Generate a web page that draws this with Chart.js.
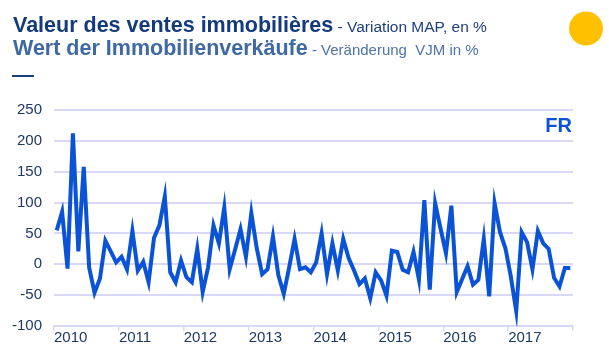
<!DOCTYPE html>
<html lang="fr">
<head>
<meta charset="utf-8">
<title>Valeur des ventes immobilières</title>
<script src="https://cdn.jsdelivr.net/npm/chart.js@4.4.1/dist/chart.umd.min.js"></script>
<style>
    html, body { margin: 0; padding: 0; background: #fff; overflow: hidden; }
    canvas { display: block; }
</style>
</head>
<body>
<canvas id="ventesChart" width="609" height="347"></canvas>
<script>
// Variation MAP des ventes immobilières (FR), une valeur par mois
const years = [2010, 2011, 2012, 2013, 2014, 2015, 2016, 2017];
const v2010 = [55, 85, -7, 212, 21, 158, -5, -46, -23, 38, 21, 3];
const v2011 = [12, -8, 54, -10, 4, -29, 43, 63, 110, -13, -29, 6];
const v2012 = [-21, -29, 25, -45, -5, 63, 34, 92, -8, 24, 57, 12];
const v2013 = [83, 26, -16, -8, 45, -18, -48, -5, 41, -8, -5, -13];
const v2014 = [3, 50, -16, 34, -10, 41, 10, -10, -32, -23, -55, -13];
const v2015 = [-26, -51, 22, 20, -9, -13, 20, -25, 104, -41, 99, 58];
const v2016 = [18, 95, -45, -24, -3, -33, -25, 41, -52, 99, 52, 26];
const v2017 = [-20, -76, 52, 36, -8, 54, 34, 25, -22, -36, -6, -6];
const yTicks = [-100, -50, 0, 50, 100, 150, 200, 250];

const titleFr = 'Valeur des ventes immobilières';
const subFr = ' - Variation MAP, en %';
const titleDe = 'Wert der Immobilienverkäufe';
const subDe = ' - Veränderung\u00a0 VJM in %';
const country = 'FR';

const lavender = '#d9d9f7';
const font = '"Liberation Sans", Arial, sans-serif';

// points placés au milieu de chaque mois
let points = [];
[v2010, v2011, v2012, v2013, v2014, v2015, v2016, v2017].forEach((vals, k) => {
    vals.forEach((v, m) => points.push({x: years[k] + (m + 0.5) / 12, y: v}));
});

const headerPlugin = {
    id: 'header',
    afterDraw(chart) {
        const ctx = chart.ctx;
        ctx.save();
        ctx.textBaseline = 'alphabetic';
        ctx.textAlign = 'left';

        ctx.font = 'bold 21.5px ' + font;
        ctx.fillStyle = '#133a7c';
        ctx.fillText(titleFr, 13, 32);
        let w = ctx.measureText(titleFr).width;
        ctx.font = '15.5px ' + font;
        ctx.fillStyle = '#1d3f7e';
        ctx.fillText(subFr, 13 + w, 32);

        ctx.font = 'bold 21.5px ' + font;
        ctx.fillStyle = '#3e69a2';
        ctx.fillText(titleDe, 13, 54.5);
        w = ctx.measureText(titleDe).width;
        ctx.font = '15px ' + font;
        ctx.fillStyle = '#4f72a8';
        ctx.fillText(subDe, 13 + w, 54.5);

        ctx.fillStyle = '#1d3f7e';
        ctx.fillRect(12, 75, 22, 2);

        ctx.beginPath();
        ctx.fillStyle = '#ffc000';
        ctx.arc(586, 28.5, 17, 0, Math.PI * 2);
        ctx.fill();

        ctx.font = 'bold 20px ' + font;
        ctx.fillStyle = '#0b53d4';
        ctx.textAlign = 'right';
        ctx.fillText(country, 572, 132);
        ctx.restore();
    }
};

const data = {
    datasets: [{
            label: titleFr,
            data: points,
            borderColor: '#0a52d6',
            borderWidth: 4,
            pointRadius: 0,
            tension: 0,
            fill: false
        }]
};

const config = {
    type: 'line',
    data: data,
    options: {
        responsive: false,
        devicePixelRatio: 1,
        animation: false,
        layout: {
            padding: {top: 110, right: 36, left: 0, bottom: 0}
        },
        plugins: {
            legend: {display: false},
            tooltip: {enabled: false}
        },
        scales: {
            x: {
                type: 'linear',
                min: years[0],
                max: years[years.length - 1] + 1,
                afterBuildTicks: (scale) => {
                    scale.ticks = years.concat([years[years.length - 1] + 1]).map(v => ({value: v}));
                },
                afterFit: (scale) => { scale.height = 17; },
                grid: {
                    drawOnChartArea: false,
                    drawTicks: true,
                    tickLength: 5,
                    color: lavender,
                    lineWidth: 1.5
                },
                border: {display: true, color: lavender, width: 2},
                ticks: {
                    align: 'start',
                    padding: -2,
                    color: '#1f3864',
                    font: {family: font, size: 15},
                    autoSkip: false,
                    maxRotation: 0,
                    callback: (v) => years.includes(v) ? String(v) : ''
                }
            },
            y: {
                min: yTicks[0],
                max: yTicks[yTicks.length - 1],
                afterBuildTicks: (scale) => {
                    scale.ticks = yTicks.map(v => ({value: v}));
                },
                afterFit: (scale) => { scale.width = 54; },
                grid: {
                    color: lavender,
                    lineWidth: 2,
                    drawTicks: false
                },
                border: {display: false},
                ticks: {
                    padding: 12,
                    color: '#1f3864',
                    font: {family: font, size: 15}
                }
            }
        }
    },
    plugins: [headerPlugin]
};

let ctx = document.getElementById('ventesChart').getContext('2d');
new Chart(ctx, config);
</script>
</body>
</html>
